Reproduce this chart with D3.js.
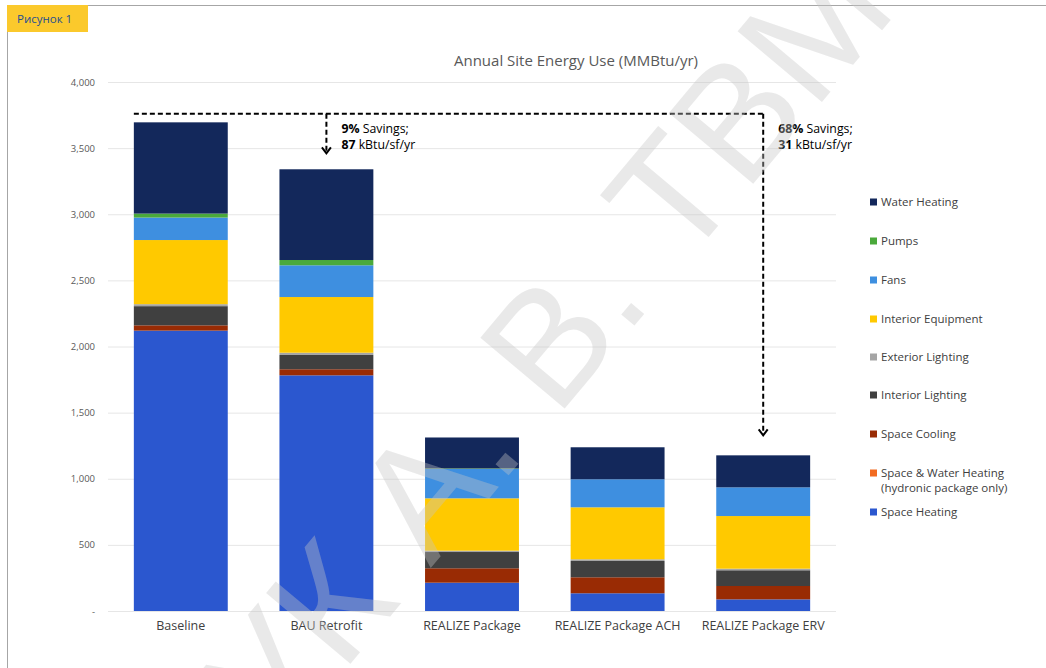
<!DOCTYPE html>
<html>
<head>
<meta charset="utf-8">
<script src="https://cdn.jsdelivr.net/npm/d3@7/dist/d3.min.js"></script>
<style>
  body { margin: 0; background: #fff; }
  svg { display: block; font-family: "Open Sans", Lato, sans-serif; }
</style>
</head>
<body>
<div id="chart"></div>
<script>
// data (MMBtu/yr)
const categories = ["Baseline", "BAU Retrofit", "REALIZE Package", "REALIZE Package ACH", "REALIZE Package ERV"]
const spaceHeating = [2120, 1782, 214, 134, 88]
const spaceWaterHeating = [0, 0, 0, 0, 0]
const spaceCooling = [40, 46, 109, 121, 101]
const interiorLighting = [145, 108, 123, 123, 119]
const exteriorLighting = [15, 17, 10, 13, 12]
const interiorEquipment = [485, 421, 396, 393, 398]
const fans = [170, 240, 222, 212, 217]
const pumps = [30, 40, 4, 0, 0]
const waterHeating = [690, 686, 234, 242, 242]

const seriesNames = ["Space Heating", "Space & Water Heating", "Space Cooling", "Interior Lighting",
  "Exterior Lighting", "Interior Equipment", "Fans", "Pumps", "Water Heating"]
const seriesValues = [spaceHeating, spaceWaterHeating, spaceCooling, interiorLighting,
  exteriorLighting, interiorEquipment, fans, pumps, waterHeating]
const colors = ["#2b57cf", "#f26b21", "#992b04", "#404040", "#a5a5a5", "#ffc900", "#3e8fe0", "#4aa93b", "#13285b"]

const yTicks = [0, 500, 1000, 1500, 2000, 2500, 3000, 3500, 4000]
const refLineValue = 3760
const savingsPct = ["9%", "68%"]
const savingsEui = ["87", "31"]
const savingsTargets = ["BAU Retrofit", "REALIZE Package ERV"]

// 1. dimensions
const width = 1046
const height = 668
const plot = { left: 108, right: 836, top: 82, bottom: 611 }

const svg = d3.select("#chart").append("svg")
    .attr("width", width)
    .attr("height", height)

// 2. scales
const xScale = d3.scaleBand()
    .domain(categories)
    .range([plot.left, plot.right])
    .paddingInner(0.355)
    .paddingOuter(0.1775)

const yScale = d3.scaleLinear()
    .domain([0, 4000])
    .range([plot.bottom, plot.top])

// frame + label box
svg.append("line")
    .attr("x1", 88).attr("x2", width).attr("y1", 5.5).attr("y2", 5.5)
    .attr("stroke", "#a6a6a6")
svg.append("line")
    .attr("x1", 7.5).attr("x2", 7.5).attr("y1", 32).attr("y2", height)
    .attr("stroke", "#a6a6a6")
svg.append("rect")
    .attr("x", 7).attr("y", 5).attr("width", 81).attr("height", 27)
    .attr("fill", "#fbc92c")
svg.append("text")
    .attr("x", 17).attr("y", 23)
    .attr("font-size", 11.5)
    .attr("fill", "#1f4f91")
    .text("Рисунок 1")

// title
svg.append("text")
    .attr("x", 576).attr("y", 66)
    .attr("text-anchor", "middle")
    .attr("font-size", 15)
    .attr("fill", "#595959")
    .text("Annual Site Energy Use (MMBtu/yr)")

// 3. gridlines + y axis
const yAxis = svg.append("g")
    .attr("transform", `translate(${plot.left},0)`)
    .call(d3.axisLeft(yScale)
      .tickValues(yTicks)
      .tickSize(-(plot.right - plot.left))
      .tickPadding(13)
      .tickFormat(d => d === 0 ? "-" : d3.format(",")(d)))
yAxis.select(".domain").remove()
yAxis.selectAll(".tick line").attr("stroke", "#e6e6e6")
yAxis.selectAll(".tick text")
    .attr("font-size", 9.5)
    .attr("fill", "#595959")
    .attr("font-family", "'Open Sans', sans-serif")

// 4. stacked bars
const table = categories.map((c, i) => {
  const row = { category: c }
  seriesNames.forEach((s, j) => row[s] = seriesValues[j][i])
  return row
})
const stacked = d3.stack().keys(seriesNames)(table)

svg.append("g")
  .selectAll("g")
  .data(stacked)
  .join("g")
    .attr("fill", (d, i) => colors[i])
  .selectAll("rect")
  .data(d => d)
  .join("rect")
    .attr("x", d => xScale(d.data.category))
    .attr("width", xScale.bandwidth())
    .attr("y", d => yScale(d[1]))
    .attr("height", d => yScale(d[0]) - yScale(d[1]))

// x labels
const xAxis = svg.append("g")
    .attr("transform", `translate(0,${plot.bottom})`)
    .call(d3.axisBottom(xScale).tickSize(0).tickPadding(10))
xAxis.select(".domain").remove()
xAxis.selectAll(".tick text")
    .attr("font-size", 12.5)
    .attr("fill", "#404040")
    .attr("font-family", "'Open Sans', sans-serif")

// 5. savings annotations
const refY = yScale(refLineValue)
const firstX = xScale(categories[0])
const lastX = xScale(savingsTargets[1]) + xScale.bandwidth() / 2
const dash = "5,3"

svg.append("line")
    .attr("x1", firstX).attr("x2", lastX)
    .attr("y1", refY).attr("y2", refY)
    .attr("stroke", "#000").attr("stroke-width", 2)
    .attr("stroke-dasharray", dash)

const totals = table.map(r => d3.sum(seriesNames, s => r[s]))
const arrowGap = [16, 20]

savingsTargets.forEach((cat, i) => {
  const cx = xScale(cat) + xScale.bandwidth() / 2
  const idx = categories.indexOf(cat)
  const tipY = yScale(totals[idx]) - arrowGap[i]
  svg.append("line")
      .attr("x1", cx).attr("x2", cx)
      .attr("y1", refY).attr("y2", tipY - 1)
      .attr("stroke", "#000").attr("stroke-width", 2)
      .attr("stroke-dasharray", dash)
  svg.append("path")
      .attr("d", `M${cx - 4.5},${tipY - 6} L${cx},${tipY} L${cx + 4.5},${tipY - 6}`)
      .attr("fill", "none")
      .attr("stroke", "#000").attr("stroke-width", 2)

  const label = svg.append("text")
      .attr("x", cx + 15)
      .attr("y", refY + 19)
      .attr("font-size", 12.3)
      .attr("fill", "#000")
  label.append("tspan").attr("font-weight", "bold").text(savingsPct[i])
  label.append("tspan").text(" Savings;")
  const label2 = svg.append("text")
      .attr("x", cx + 15)
      .attr("y", refY + 35)
      .attr("font-size", 12.3)
      .attr("fill", "#000")
  label2.append("tspan").attr("font-weight", "bold").text(savingsEui[i])
  label2.append("tspan").text(" kBtu/sf/yr")
})

// 6. legend (top to bottom = top of stack first)
const legendRows = [
  { key: "Water Heating", y: 202 },
  { key: "Pumps", y: 241 },
  { key: "Fans", y: 280 },
  { key: "Interior Equipment", y: 319 },
  { key: "Exterior Lighting", y: 357 },
  { key: "Interior Lighting", y: 395 },
  { key: "Space Cooling", y: 434 },
  { key: "Space & Water Heating", y: 473, extra: "(hydronic package only)" },
  { key: "Space Heating", y: 512 },
]
const legend = svg.append("g")
legendRows.forEach(r => {
  const g = legend.append("g").attr("transform", `translate(870,${r.y})`)
  g.append("rect")
      .attr("x", 0).attr("y", -3.5)
      .attr("width", 7).attr("height", 7)
      .attr("fill", colors[seriesNames.indexOf(r.key)])
  g.append("text")
      .attr("x", 11).attr("y", 4)
      .attr("font-size", 11.5)
      .attr("fill", "#404040")
      .text(r.key)
  if (r.extra) {
    g.append("text")
        .attr("x", 11).attr("y", 19)
        .attr("font-size", 11.5)
        .attr("fill", "#404040")
        .text(r.extra)
  }
})

// watermark over everything
svg.append("text")
    .attr("transform", "translate(567,340) rotate(-50)")
    .attr("text-anchor", "middle")
    .attr("dominant-baseline", "middle")
    .attr("font-family", "Liberation Sans, sans-serif")
    .attr("font-size", 160)
    .attr("fill", "#c4c4c4")
    .attr("fill-opacity", 0.38)
    .text("ЧУК А. В. ТВМ-2")
</script>
</body>
</html>
